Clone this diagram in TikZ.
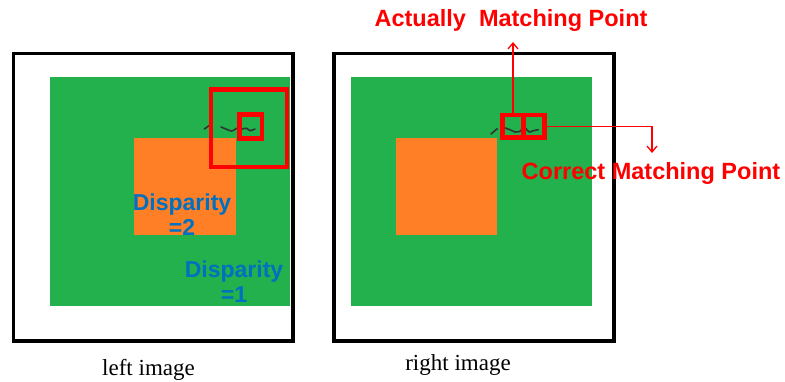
\documentclass[tikz,border=0pt]{standalone}
\usepackage{fontspec}
\setmainfont{Liberation Serif}
\newfontfamily\arialf{Liberation Sans}
\usetikzlibrary{arrows.meta}
\definecolor{pgreen}{RGB}{34,177,76}
\definecolor{porange}{RGB}{255,127,39}
\definecolor{pred}{RGB}{255,0,0}
\definecolor{pblue}{RGB}{0,112,192}
\begin{document}
\begin{tikzpicture}[x=1pt,y=-1pt,
  frame/.style={draw=black,line width=3.5pt,inner sep=0pt,outer sep=0pt},
  fillbox/.style={draw=none,inner sep=0pt,outer sep=0pt},
  redbox/.style={draw=pred,line width=4.5pt,inner sep=0pt,outer sep=0pt},
  conn/.style={draw=pred,line width=1.3pt},
  wave/.style={draw=black!80,line width=1.6pt,line cap=round},
  redtxt/.style={text=pred,font=\arialf\bfseries\fontsize{23.5}{26}\selectfont,inner sep=0pt},
  bluetxt/.style={text=pblue,font=\arialf\bfseries\fontsize{23}{26}\selectfont,align=center,inner sep=0pt},
  captxt/.style={font=\fontsize{23}{26}\selectfont,inner sep=0pt}]
\useasboundingbox (0,0) rectangle (785,382);
% frames
\node[frame,minimum width=279.5pt,minimum height=287.5pt] (lframe) at (153.25,197.25) {};
\node[frame,minimum width=280pt,minimum height=287.5pt] (rframe) at (474,197.25) {};
% green areas
\node[fillbox,fill=pgreen,minimum width=240pt,minimum height=229pt] (lgreen) at (170,191.5) {};
\node[fillbox,fill=pgreen,minimum width=241pt,minimum height=229pt] (rgreen) at (471.5,191.5) {};
% orange squares
\node[fillbox,fill=porange,minimum width=102pt,minimum height=97pt] (lorange) at (185,186.5) {};
\node[fillbox,fill=porange,minimum width=101pt,minimum height=97pt] (rorange) at (446.5,186.5) {};
% waves
\draw[wave] (204.3,129) -- (210,125);
\draw[wave] plot[smooth] coordinates {(221,127) (226.7,129.3) (231.7,131) (236.7,128.3)};
\draw[wave] plot[smooth] coordinates {(242,129) (246.7,128.3) (250,130.7) (255,129)};
\draw[wave] (491,134) -- (497.3,128.7);
\draw[wave] plot[smooth] coordinates {(505,128) (510,129.7) (515,132) (520,131.3) (522,129)};
\draw[wave] plot[smooth] coordinates {(526,128.7) (529.3,132) (533.3,130.7) (538.3,129.7)};
% red boxes
\node[redbox,minimum width=76pt,minimum height=77.5pt] (lbig) at (249,128.25) {};
\node[redbox,minimum width=22.3pt,minimum height=23.6pt] (lsmall) at (250.85,126.5) {};
\node[redbox,minimum width=21pt,minimum height=22.5pt] (ramp) at (513,126.25) {};
\node[redbox,minimum width=21pt,minimum height=22.5pt] (rcmp) at (534,126.25) {};
% texts
\node[redtxt] (amp) at (511,20) {Actually\ \ Matching Point};
\node[redtxt] (cmp) at (651,173) {Correct Matching Point};
\node[bluetxt] (d2) at (182,215) {Disparity\\[-1pt]=2};
\node[bluetxt] (d1) at (234,282) {Disparity\\[-1pt]=1};
\node[captxt] (lcap) at (148.5,370) {left image};
\node[captxt] (rcap) at (458,365) {right image};
% connectors
\coordinate (amptip) at (512,42);
\coordinate (cmptip) at (652,153);
\draw[conn,-{Straight Barb[length=6pt,width=10pt]}] (ramp.north) -- (ramp.north |- amptip);
\draw[conn,-{Straight Barb[length=6pt,width=10pt]}] (rcmp.east) -| (cmptip);
\end{tikzpicture}
\end{document}
